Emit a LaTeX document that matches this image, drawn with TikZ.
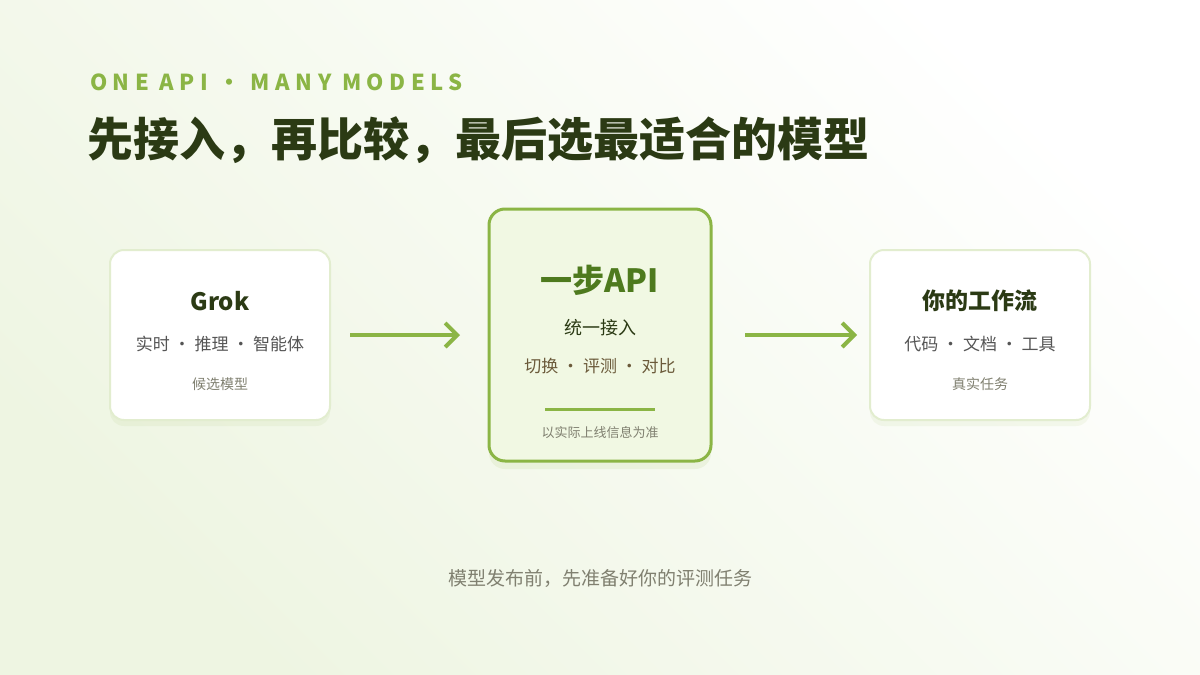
\documentclass[tikz,border=0pt]{standalone}
\usepackage{fontspec}
\setmainfont{Noto Sans CJK SC}
\usetikzlibrary{arrows.meta,shadows}
\definecolor{bgA}{HTML}{EEF5E2}
\definecolor{accent}{HTML}{8BB545}
\definecolor{titlec}{HTML}{2B3A14}
\definecolor{midfill}{HTML}{F1F8E3}
\definecolor{apic}{HTML}{4E7A1E}
\definecolor{graytxt}{HTML}{555555}
\definecolor{lightgray}{HTML}{808070}
\definecolor{boxline}{HTML}{E2EDCF}
\definecolor{brownt}{HTML}{6B5A3A}
\begin{document}
\begin{tikzpicture}[x=0.5pt,y=-0.5pt,
  card/.style={draw=boxline,line width=1pt,fill=white,rounded corners=7pt,
    drop shadow={shadow xshift=0pt,shadow yshift=-3pt,opacity=0.08,fill=accent}},
  flow/.style={draw=accent,line width=2pt,-{Straight Barb[length=6pt,width=12pt,line width=2pt]}},
  head/.style={font=\fontsize{12}{14}\selectfont\bfseries,text=titlec},
  sub/.style={font=\fontsize{8.5}{10}\selectfont,text=graytxt},
  note/.style={font=\fontsize{7}{8}\selectfont,text=lightgray}]
\shade[left color=bgA,right color=white,shading angle=135] (0,0) rectangle (1200,675);
\useasboundingbox (0,0) rectangle (1200,675);
\node[anchor=west,text=accent,font=\fontsize{11}{13}\selectfont\bfseries] (kicker) at (83,82)
  {\addfontfeature{LetterSpace=25}ONE API · MANY MODELS};
\node[anchor=west,text=titlec,font=\fontsize{23}{27}\selectfont\bfseries] (title) at (80,140)
  {先接入，再比较，最后选最适合的模型};
\path[card] (110,250) rectangle (330,420);
\path[card] (870,250) rectangle (1090,420);
\path[draw=accent,line width=1.5pt,fill=midfill,rounded corners=8pt,
  drop shadow={shadow xshift=0pt,shadow yshift=-4pt,opacity=0.1,fill=accent}] (489,209) rectangle (711,461);
\node[head] (grok) at (220,301) {Grok};
\node[sub] (grokS) at (220,344) {实时 · 推理 · 智能体};
\node[note] (grokN) at (220,384) {候选模型};
\node[font=\fontsize{16}{18}\selectfont\bfseries,text=apic] (api) at (600,280) {一步API};
\node[font=\fontsize{9}{11}\selectfont,text=titlec] (apiS) at (600,328) {统一接入};
\node[font=\fontsize{8.5}{10}\selectfont,text=brownt] (apiT) at (600,366) {切换 · 评测 · 对比};
\coordinate (la) at (545,409); \coordinate (lb) at (655,409);
\draw[accent,line width=1.5pt] (la) -- (lb);
\node[font=\fontsize{6.5}{8}\selectfont,text=lightgray] (apiN) at (600,433) {以实际上线信息为准};
\node[head,font=\fontsize{11.5}{14}\selectfont\bfseries] (wf) at (980,301) {你的工作流};
\node[sub] (wfS) at (980,344) {代码 · 文档 · 工具};
\node[note] (wfN) at (980,384) {真实任务};
\coordinate (a1) at (350,335); \coordinate (a2) at (460,335);
\coordinate (b1) at (745,335); \coordinate (b2) at (857,335);
\draw[flow] (a1) -- (a2);
\draw[flow] (b1) -- (b2);
\node[font=\fontsize{9.5}{11}\selectfont,text=lightgray] (foot) at (600,578) {模型发布前，先准备好你的评测任务};
\end{tikzpicture}
\end{document}
